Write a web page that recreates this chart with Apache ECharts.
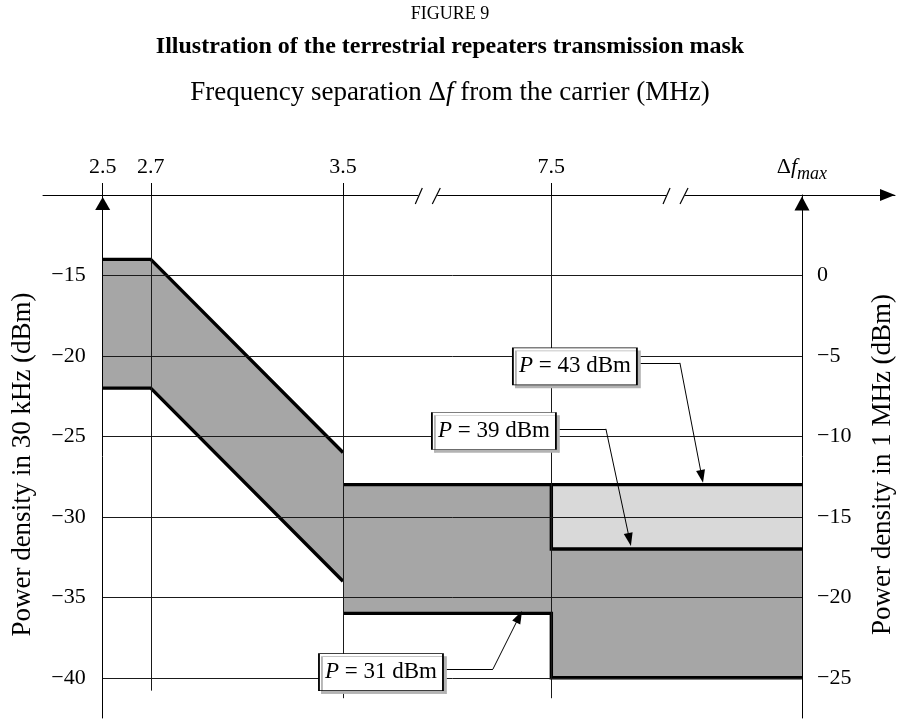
<!DOCTYPE html>
<html><head><meta charset="utf-8">
<script src="https://cdn.jsdelivr.net/npm/echarts@6/dist/echarts.min.js"></script>
<style>html,body{margin:0;padding:0;background:#fff}#c{width:900px;height:719px}</style>
</head><body><div id="c"></div>
<script>
// ---------------- data ----------------
const freqLabels = ['2.5', '2.7', '3.5', '7.5', 'Δf_max'];
// position of each frequency on the broken horizontal axis (axis units)
const freqAxisPos = [0, 0.2, 1.0, 1.867, 2.91];
const axisBreaks = [1.355, 2.386];
const leftTicks = [-15, -20, -25, -30, -35, -40];   // dBm in 30 kHz
const rightTicks = [0, -5, -10, -15, -20, -25];     // dBm in 1 MHz
const rightShift = 15;                              // 1 MHz value = 30 kHz value + 15
// mask lines: [frequency index, power density dBm/30 kHz]
const mask43 = [[0, -14], [1, -14], [2, -26]];
const mask43Flat = [[2, -28], [4, -28]];
const mask39Step = [[3, -28], [3, -32], [4, -32]];
const mask31 = [[0, -22], [1, -22], [2, -34]];
const mask31Step = [[2, -36], [3, -36], [3, -40], [4, -40]];
const darkRegion = [[0, -14], [1, -14], [2, -26], [2, -28], [3, -28], [3, -32], [4, -32],
                    [4, -40], [3, -40], [3, -36], [2, -36], [2, -34], [1, -22], [0, -22]];
const lightRegion = [[3, -28], [4, -28], [4, -32], [3, -32]];
const powerLabels = ['43', '39', '31'];
// vertical grid line lower ends (dBm/30 kHz) for 2.7, 3.5, 7.5
const vGridIdx = [1, 2, 3];
const vGridBottom = [-40.8, -41.27, -41.27];

// annotation placement (axis units)
const annotations = [
  { box: [1.965, -20.65], leader: [[2.223, -20.43], [2.402, -20.43], [2.493, -27.49]] },
  { box: [1.628, -24.66], leader: [[1.886, -24.53], [2.094, -24.53], [2.1925, -31.41]] },
  { box: [1.158, -39.65], leader: [[1.416, -39.46], [1.624, -39.46], [1.733, -36.21]] }
];

// ---------------- layout ----------------
const FONT = 'Liberation Serif';
const gridLeft = 43, gridRight = 5, gridTop = 195;
const pxPerUnit = 240.3;
const originPx = 102.7;
const gridWidth = 900 - gridLeft - gridRight;
const xMin = -(originPx - gridLeft) / pxPerUnit;
const xMax = (gridWidth - (originPx - gridLeft)) / pxPerUnit;
const rightAxisPx = originPx + freqAxisPos[4] * pxPerUnit;
const toXY = p => [freqAxisPos[p[0]], p[1]];
const fmtNum = v => (v < 0 ? '\u2212' + (-v) : String(v));

const chart = echarts.init(document.getElementById('c'), null, { renderer: 'canvas' });

function regionSeries(pts, color) {
  return {
    type: 'custom', z: 1, silent: true,
    data: pts.map(toXY),
    encode: { x: 0, y: 1 },
    renderItem: (params, api) => {
      if (params.dataIndex !== 0) return null;
      return { type: 'polygon', shape: { points: pts.map(p => api.coord(toXY(p))) },
               style: { fill: color, stroke: null } };
    }
  };
}
function thickLine(pts) {
  return { type: 'line', z: 4, silent: true, symbol: 'none', animation: false,
           data: pts.map(toXY), lineStyle: { color: '#000', width: 3.4, cap: 'butt', join: 'miter' } };
}

const gridLines = [];
leftTicks.forEach(v => gridLines.push([{ coord: [freqAxisPos[0], v] }, { coord: [freqAxisPos[4], v] }]));
vGridIdx.forEach((i, k) => gridLines.push([{ coord: [freqAxisPos[i], -10] }, { coord: [freqAxisPos[i], vGridBottom[k]] }]));

const leaderLines = [];
annotations.forEach(a => {
  leaderLines.push([{ coord: a.leader[0], symbol: 'none' }, { coord: a.leader[1], symbol: 'none' }]);
  leaderLines.push([{ coord: a.leader[1], symbol: 'none' }, { coord: a.leader[2], symbol: 'triangle' }]);
});

const nameStyle = { fontFamily: FONT, fontSize: 27, color: '#000', padding: [0, 16, 0, 0] };

chart.setOption({
  animation: false,
  textStyle: { fontFamily: FONT, color: '#000' },
  title: [
    { text: 'FIGURE 9', left: 'center', top: 5, padding: 0,
      textStyle: { fontFamily: FONT, fontSize: 18, fontWeight: 'normal', color: '#000' } },
    { text: 'Illustration of the terrestrial repeaters transmission mask', left: 'center', top: 35, padding: 0,
      textStyle: { fontFamily: FONT, fontSize: 24, fontWeight: 'bold', color: '#000' } },
    { text: '{n|Frequency separation \u0394}{i|f}{n| from the carrier (MHz)}', left: 'center', top: 79, padding: 0,
      textStyle: { fontWeight: 'normal', rich: {
        n: { fontFamily: FONT, fontSize: 27, fontWeight: 'normal', color: '#000' },
        i: { fontFamily: FONT, fontSize: 27, fontWeight: 'normal', fontStyle: 'italic', color: '#000' } } } }
  ],
  grid: { left: gridLeft, right: gridRight, top: gridTop, bottom: 1, containLabel: false, outerBoundsMode: 'none' },
  xAxis: {
    type: 'value', position: 'top', min: xMin, max: xMax, z: 6,
    axisLine: { show: true, onZero: false, symbol: ['none', 'triangle'], symbolSize: [12, 15], symbolOffset: [0, -7.5],
                lineStyle: { color: '#000', width: 1 } },
    axisTick: { show: true, customValues: freqAxisPos.slice(0, 4), length: 12, inside: false,
                lineStyle: { color: '#000', width: 1 } },
    axisLabel: {
      customValues: freqAxisPos, margin: 28, verticalAlign: 'middle',
      fontSize: 22, fontFamily: FONT, color: '#000',
      formatter: v => {
        const i = freqAxisPos.findIndex(p => Math.abs(p - v) < 1e-6);
        if (i < 0) return '';
        if (freqLabels[i] === 'Δf_max') return '{d|\u0394}{f|f}{m|max}';
        return freqLabels[i];
      },
      rich: {
        d: { fontFamily: FONT, fontSize: 22, color: '#000' },
        f: { fontFamily: FONT, fontSize: 22, fontStyle: 'italic', color: '#000' },
        m: { fontFamily: FONT, fontSize: 18, fontStyle: 'italic', color: '#000', padding: [14, 0, 0, 0] }
      }
    },
    splitLine: { show: false }
  },
  yAxis: [
    { type: 'value', position: 'left', min: -42.5, max: -10, offset: -(originPx - gridLeft), z: 6,
      name: 'Power density in 30 kHz (dBm)', nameLocation: 'middle', nameRotate: 90, nameGap: 66,
      nameTextStyle: nameStyle,
      axisLine: { show: true, onZero: false, symbol: ['none', 'triangle'], symbolSize: [15, 13], symbolOffset: [0, -8.5],
                  lineStyle: { color: '#000', width: 1 } },
      axisTick: { show: false },
      axisLabel: { customValues: leftTicks, formatter: fmtNum, margin: 17, fontSize: 22, fontFamily: FONT, color: '#000' },
      splitLine: { show: false } },
    { type: 'value', position: 'right', min: -42.5 + rightShift, max: -10 + rightShift,
      offset: -(900 - gridRight - rightAxisPx), z: 6,
      name: 'Power density in 1 MHz (dBm)', nameLocation: 'middle', nameRotate: 90, nameGap: 67,
      nameTextStyle: nameStyle,
      axisLine: { show: true, onZero: false, symbol: ['none', 'triangle'], symbolSize: [15, 14], symbolOffset: [0, -8.5],
                  lineStyle: { color: '#000', width: 1 } },
      axisTick: { show: false },
      axisLabel: { customValues: rightTicks, formatter: fmtNum, margin: 15, fontSize: 22, fontFamily: FONT, color: '#000' },
      splitLine: { show: false } }
  ],
  series: [
    regionSeries(darkRegion, '#a6a6a6'),
    regionSeries(lightRegion, '#d9d9d9'),
    { type: 'line', z: 3, silent: true, symbol: 'none', data: [[0, -15]], lineStyle: { width: 0 },
      markLine: { silent: true, symbol: 'none', animation: false, label: { show: false },
                  lineStyle: { color: '#1a1a1a', width: 1, type: 'solid' }, data: gridLines } },
    thickLine(mask43), thickLine(mask43Flat), thickLine(mask39Step), thickLine(mask31), thickLine(mask31Step),
    { type: 'line', z: 5, silent: true, symbol: 'none', data: [[0, -15]], lineStyle: { width: 0 },
      markLine: { silent: true, symbol: ['none', 'triangle'], symbolSize: [9, 13], animation: false, label: { show: false },
                  lineStyle: { color: '#000', width: 1, type: 'solid' }, data: leaderLines } },
    { type: 'scatter', z: 7, silent: true, symbol: 'rect', symbolSize: [124, 37],
      itemStyle: { color: '#fff', borderColor: '#000', borderWidth: 1, opacity: 1,
                   shadowColor: '#b3b3b3', shadowBlur: 0, shadowOffsetX: 3, shadowOffsetY: 3 },
      emphasis: { disabled: true },
      label: { show: true, position: 'inside', color: '#000',
               formatter: p => '{i|P} = ' + p.name + ' dBm',
               rich: { i: { fontFamily: FONT, fontSize: 23, fontStyle: 'italic', color: '#000' } },
               fontFamily: FONT, fontSize: 23 },
      data: annotations.map((a, k) => ({ name: powerLabels[k], value: a.box })) }
  ]
});

// axis break marks on the top axis
const axisY = chart.convertToPixel({ yAxisIndex: 0 }, -10);
const breakGraphics = [];
axisBreaks.forEach(b => {
  const c = chart.convertToPixel({ xAxisIndex: 0 }, b);
  breakGraphics.push({ type: 'rect', z: 100, shape: { x: c - 10, y: axisY - 2, width: 19, height: 4 }, style: { fill: '#fff' } });
  breakGraphics.push({ type: 'line', z: 101, shape: { x1: c - 13, y1: axisY + 9, x2: c - 6, y2: axisY - 7 }, style: { stroke: '#000', lineWidth: 1.2 } });
  breakGraphics.push({ type: 'line', z: 101, shape: { x1: c + 4, y1: axisY + 9, x2: c + 12, y2: axisY - 7 }, style: { stroke: '#000', lineWidth: 1.2 } });
});
chart.setOption({ graphic: breakGraphics });
</script>
</body></html>
